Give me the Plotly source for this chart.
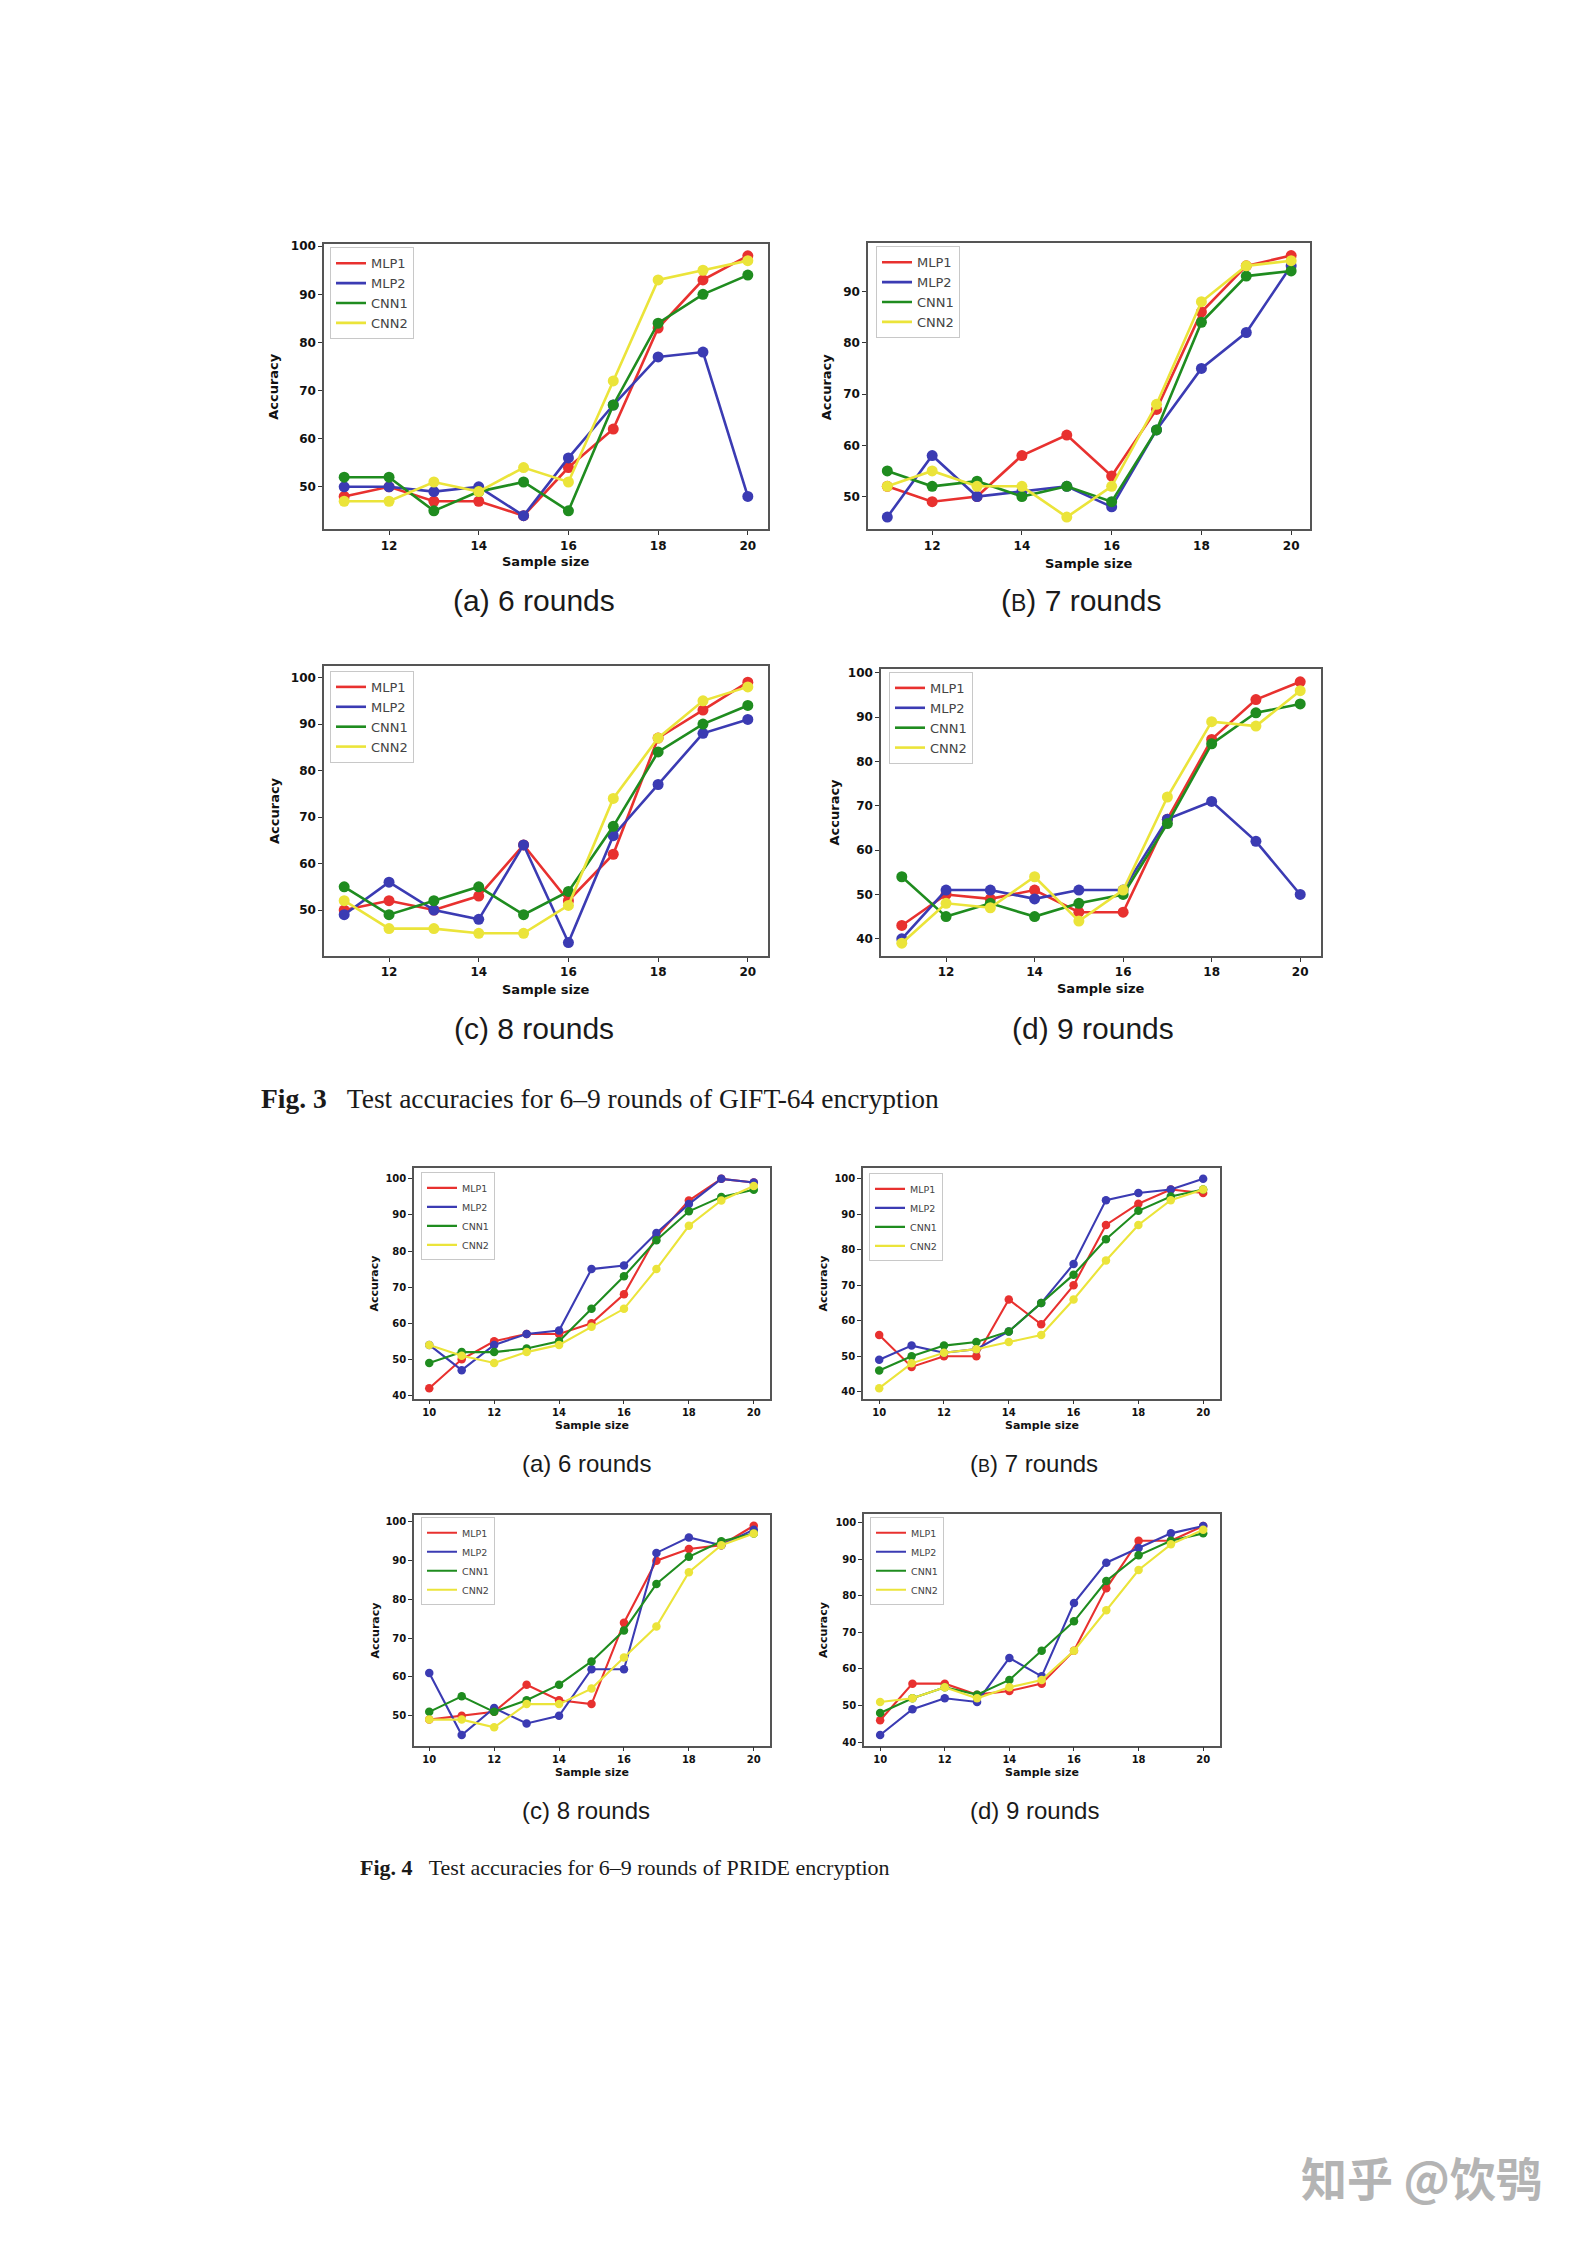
import plotly.graph_objects as go

# ---------------- data ----------------
MODELS = ["MLP1", "MLP2", "CNN1", "CNN2"]
X_GIFT = [11, 12, 13, 14, 15, 16, 17, 18, 19, 20]
X_PRIDE = [10, 11, 12, 13, 14, 15, 16, 17, 18, 19, 20]
TICKS_GIFT = [12, 14, 16, 18, 20]
TICKS_PRIDE = [10, 12, 14, 16, 18, 20]

GIFT6_MLP1 = [48, 50, 47, 47, 44, 54, 62, 83, 93, 98]
GIFT6_MLP2 = [50, 50, 49, 50, 44, 56, 67, 77, 78, 48]
GIFT6_CNN1 = [52, 52, 45, 49, 51, 45, 67, 84, 90, 94]
GIFT6_CNN2 = [47, 47, 51, 49, 54, 51, 72, 93, 95, 97]

GIFT7_MLP1 = [52, 49, 50, 58, 62, 54, 67, 86, 95, 97]
GIFT7_MLP2 = [46, 58, 50, 51, 52, 48, 63, 75, 82, 95]
GIFT7_CNN1 = [55, 52, 53, 50, 52, 49, 63, 84, 93, 94]
GIFT7_CNN2 = [52, 55, 52, 52, 46, 52, 68, 88, 95, 96]

GIFT8_MLP1 = [50, 52, 50, 53, 64, 52, 62, 87, 93, 99]
GIFT8_MLP2 = [49, 56, 50, 48, 64, 43, 66, 77, 88, 91]
GIFT8_CNN1 = [55, 49, 52, 55, 49, 54, 68, 84, 90, 94]
GIFT8_CNN2 = [52, 46, 46, 45, 45, 51, 74, 87, 95, 98]

GIFT9_MLP1 = [43, 50, 49, 51, 46, 46, 67, 85, 94, 98]
GIFT9_MLP2 = [40, 51, 51, 49, 51, 51, 67, 71, 62, 50]
GIFT9_CNN1 = [54, 45, 48, 45, 48, 50, 66, 84, 91, 93]
GIFT9_CNN2 = [39, 48, 47, 54, 44, 51, 72, 89, 88, 96]

PRIDE6_MLP1 = [42, 50, 55, 57, 57, 60, 68, 84, 94, 100, 99]
PRIDE6_MLP2 = [54, 47, 54, 57, 58, 75, 76, 85, 93, 100, 99]
PRIDE6_CNN1 = [49, 52, 52, 53, 55, 64, 73, 83, 91, 95, 97]
PRIDE6_CNN2 = [54, 51, 49, 52, 54, 59, 64, 75, 87, 94, 98]

PRIDE7_MLP1 = [56, 47, 50, 50, 66, 59, 70, 87, 93, 97, 96]
PRIDE7_MLP2 = [49, 53, 51, 52, 57, 65, 76, 94, 96, 97, 100]
PRIDE7_CNN1 = [46, 50, 53, 54, 57, 65, 73, 83, 91, 95, 97]
PRIDE7_CNN2 = [41, 48, 51, 52, 54, 56, 66, 77, 87, 94, 97]

PRIDE8_MLP1 = [49, 50, 51, 58, 54, 53, 74, 90, 93, 94, 99]
PRIDE8_MLP2 = [61, 45, 52, 48, 50, 62, 62, 92, 96, 94, 98]
PRIDE8_CNN1 = [51, 55, 51, 54, 58, 64, 72, 84, 91, 95, 97]
PRIDE8_CNN2 = [49, 49, 47, 53, 53, 57, 65, 73, 87, 94, 97]

PRIDE9_MLP1 = [46, 56, 56, 53, 54, 56, 65, 82, 95, 95, 99]
PRIDE9_MLP2 = [42, 49, 52, 51, 63, 58, 78, 89, 93, 97, 99]
PRIDE9_CNN1 = [48, 52, 55, 53, 57, 65, 73, 84, 91, 95, 97]
PRIDE9_CNN2 = [51, 52, 55, 52, 55, 57, 65, 76, 87, 94, 98]

SUBLABELS_GIFT = ["(a) 6 rounds", "(<span style='font-size:23px'>B</span>) 7 rounds", "(c) 8 rounds", "(d) 9 rounds"]
SUBLABELS_PRIDE = ["(a) 6 rounds", "(<span style='font-size:18px'>B</span>) 7 rounds", "(c) 8 rounds", "(d) 9 rounds"]
CAPTION3 = "<b>Fig. 3</b>\u2002 Test accuracies for 6\u20139 rounds of GIFT-64 encryption"
CAPTION4 = "<b>Fig. 4</b>\u2002 Test accuracies for 6\u20139 rounds of PRIDE encryption"
WATERMARK = "知乎 @饮鸮"

# ---------------- styling / layout ----------------
W, H = 1587, 2245
OX, OY = -7, -10
COLORS = ["#e8312f", "#3b3bb3", "#1f8c1f", "#ebe43a"]


def px_x(v):
    return (v + OX) / W


def px_y(v):
    return 1 - (v + OY) / H


panels = [
    dict(x=X_GIFT, s=[GIFT6_MLP1, GIFT6_MLP2, GIFT6_CNN1, GIFT6_CNN2], box=(323, 767, 242, 528),
         xr=[10.55, 20.45], yr=[41.15, 100.4], xt=TICKS_GIFT, big=True, leg=(329, 245),
         acc=273, ss=560, lab=SUBLABELS_GIFT[0], labpos=(533, 599)),
    dict(x=X_GIFT, s=[GIFT7_MLP1, GIFT7_MLP2, GIFT7_CNN1, GIFT7_CNN2], box=(867, 1309, 241, 528),
         xr=[10.57, 20.42], yr=[43.6, 99.4], xt=TICKS_GIFT, big=True, leg=(875, 244),
         acc=825, ss=562, lab=SUBLABELS_GIFT[1], labpos=(1080, 599)),
    dict(x=X_GIFT, s=[GIFT8_MLP1, GIFT8_MLP2, GIFT8_CNN1, GIFT8_CNN2], box=(323, 767, 665, 956),
         xr=[10.55, 20.45], yr=[40.1, 102.5], xt=TICKS_GIFT, big=True, leg=(329, 670),
         acc=273, ss=990, lab=SUBLABELS_GIFT[2], labpos=(533, 1029)),
    dict(x=X_GIFT, s=[GIFT9_MLP1, GIFT9_MLP2, GIFT9_CNN1, GIFT9_CNN2], box=(880, 1320, 668, 956),
         xr=[10.53, 20.47], yr=[36.1, 100.9], xt=TICKS_GIFT, big=True, leg=(888, 671),
         acc=833, ss=989, lab=SUBLABELS_GIFT[3], labpos=(1092, 1029)),
    dict(x=X_PRIDE, s=[PRIDE6_MLP1, PRIDE6_MLP2, PRIDE6_CNN1, PRIDE6_CNN2], box=(413, 769, 1169, 1400),
         xr=[9.53, 20.5], yr=[39.1, 102.9], xt=TICKS_PRIDE, big=False, leg=(420, 1173),
         acc=374, ss=1427, lab=SUBLABELS_PRIDE[0], labpos=(585, 1465)),
    dict(x=X_PRIDE, s=[PRIDE7_MLP1, PRIDE7_MLP2, PRIDE7_CNN1, PRIDE7_CNN2], box=(862, 1219, 1169, 1400),
         xr=[9.5, 20.52], yr=[38.05, 102.95], xt=TICKS_PRIDE, big=False, leg=(868, 1174),
         acc=823, ss=1427, lab=SUBLABELS_PRIDE[1], labpos=(1033, 1465)),
    dict(x=X_PRIDE, s=[PRIDE8_MLP1, PRIDE8_MLP2, PRIDE8_CNN1, PRIDE8_CNN2], box=(413, 769, 1517, 1748),
         xr=[9.53, 20.5], yr=[42.3, 101.7], xt=TICKS_PRIDE, big=False, leg=(420, 1519),
         acc=374, ss=1775, lab=SUBLABELS_PRIDE[2], labpos=(585, 1813)),
    dict(x=X_PRIDE, s=[PRIDE9_MLP1, PRIDE9_MLP2, PRIDE9_CNN1, PRIDE9_CNN2], box=(863, 1219, 1516, 1748),
         xr=[9.5, 20.52], yr=[39.1, 102.2], xt=TICKS_PRIDE, big=False, leg=(869, 1519),
         acc=823, ss=1775, lab=SUBLABELS_PRIDE[3], labpos=(1033, 1813)),
]

fig = go.Figure()
annotations = []
layout = {}

for i, p in enumerate(panels):
    n = i + 1
    sfx = "" if n == 1 else str(n)
    xa, ya = "x" + sfx, "y" + sfx
    leg = "legend" + sfx
    big = p["big"]
    lw = 2.6 if big else 2.1
    ms = 11 if big else 8.5
    tick_size = 12 if big else 10
    title_size = 13 if big else 11
    leg_size = 13 if big else 9.5

    for k, (name, ys) in enumerate(zip(MODELS, p["s"])):
        fig.add_trace(go.Scatter(x=p["x"], y=ys, mode="lines", name=name,
                                 line=dict(color=COLORS[k], width=lw),
                                 xaxis=xa, yaxis=ya, legend=leg, showlegend=True))
        fig.add_trace(go.Scatter(x=p["x"], y=ys, mode="markers", name=name,
                                 marker=dict(color=COLORS[k], size=ms),
                                 xaxis=xa, yaxis=ya, legend=leg, showlegend=False))

    l, r, t, b = p["box"]
    axis_common = dict(showline=True, mirror=True, linecolor="#555", linewidth=1.5,
                       showgrid=False, zeroline=False, ticks="outside", ticklen=4,
                       tickcolor="#333", tickwidth=1.2,
                       tickfont=dict(family="DejaVu Sans", size=tick_size, color="#111", weight="bold"))
    layout["xaxis" + sfx] = dict(domain=[px_x(l), px_x(r)], anchor=ya, range=p["xr"],
                                 tickvals=p["xt"], **axis_common)
    layout["yaxis" + sfx] = dict(domain=[px_y(b), px_y(t)], anchor=xa, range=p["yr"],
                                 dtick=10, tick0=0, **axis_common)
    layout[leg] = dict(x=px_x(p["leg"][0]), y=px_y(p["leg"][1]), xanchor="left", yanchor="top",
                       bgcolor="rgba(255,255,255,0.95)", bordercolor="#c8c8c8", borderwidth=1,
                       font=dict(family="DejaVu Sans", size=leg_size, color="#444"),
                       itemwidth=30, tracegroupgap=0)

    annotations.append(dict(text="Accuracy", x=px_x(p["acc"]), y=px_y((t + b) / 2), xref="paper",
                            yref="paper", showarrow=False, textangle=-90, xanchor="center",
                            yanchor="middle",
                            font=dict(family="DejaVu Sans", size=title_size, color="#111", weight="bold")))
    annotations.append(dict(text="Sample size", x=px_x((l + r) / 2), y=px_y(p["ss"]), xref="paper",
                            yref="paper", showarrow=False, xanchor="center", yanchor="middle",
                            font=dict(family="DejaVu Sans", size=title_size, color="#111", weight="bold")))
    annotations.append(dict(text=p["lab"], x=px_x(p["labpos"][0]), y=px_y(p["labpos"][1]), xref="paper",
                            yref="paper", showarrow=False, xanchor="center", yanchor="middle",
                            font=dict(family="Liberation Sans", size=30 if big else 24, color="#1a1a1a")))

annotations.append(dict(text=CAPTION3, x=px_x(258), y=px_y(1099), xref="paper", yref="paper",
                        showarrow=False, xanchor="left", yanchor="middle",
                        font=dict(family="Liberation Serif", size=27.5, color="#1a1a1a")))
annotations.append(dict(text=CAPTION4, x=px_x(357), y=px_y(1870), xref="paper", yref="paper",
                        showarrow=False, xanchor="left", yanchor="middle",
                        font=dict(family="Liberation Serif", size=22, color="#1a1a1a")))
annotations.append(dict(text=WATERMARK, x=px_x(1298), y=px_y(2180), xref="paper", yref="paper",
                        showarrow=False, xanchor="left", yanchor="middle",
                        font=dict(family="Noto Sans CJK SC", size=46, color="#b4b4b4", weight="bold")))

fig.update_layout(**layout)
fig.update_layout(width=W, height=H, margin=dict(l=0, r=0, t=0, b=0),
                  paper_bgcolor="white", plot_bgcolor="white", annotations=annotations,
                  hovermode=False)

fig.write_html("out.html")
